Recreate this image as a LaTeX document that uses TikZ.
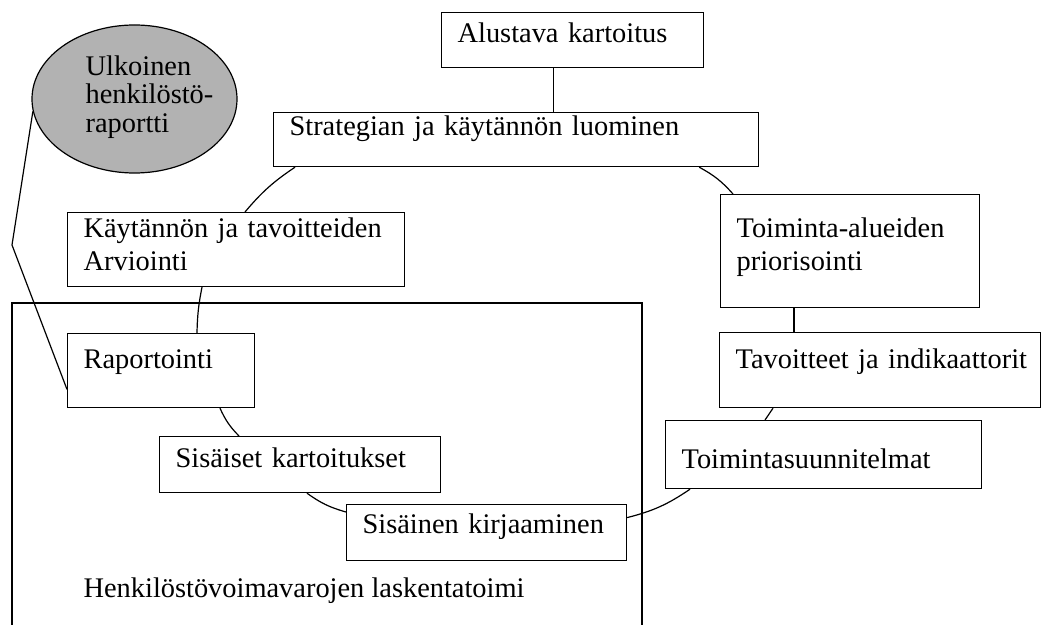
\documentclass[tikz,border=0pt]{standalone}
\usepackage{fontspec}
\setmainfont{Liberation Serif}
\usetikzlibrary{calc,shapes.geometric}

\begin{document}
\begin{tikzpicture}[x=0.5pt,y=-0.5pt,line width=0.6pt,
    box/.style={draw, rectangle, anchor=north west, inner ysep=0pt, inner xsep=8pt,
      align=left, font=\fontsize{14.2}{16.7}\selectfont},
    plain/.style={inner sep=0pt, font=\fontsize{14.2}{16.7}\selectfont}]
    \useasboundingbox (0,0) rectangle (1044,625);
    % the frame round the accounting steps
    \draw (12,625) -- (12,303) -- (642,303) -- (642,625);
    \node[plain, anchor=base west] (hvl) at (83,597) {Henkilöstövoimavarojen laskentatoimi};
    % external report
    \node[ellipse, draw, fill=black!30, minimum width=102.5pt, minimum height=74pt, inner sep=0pt] (ulk) at (134.5,99) {};
    \node[plain, align=left, anchor=west, font=\fontsize{14.2}{14.3}\selectfont] (ulkt) at (85,97) {Ulkoinen\\henkilöstö-\\raportti};
    % the steps
    \node[box, text width=115pt, text height=15pt, text depth=12.5pt] (alu) at (441,12) {Alustava kartoitus};
    \node[box, text width=226.5pt, text height=11.5pt, text depth=15.5pt] (str) at (273,112) {Strategian ja käytännön luominen};
    \node[box, text width=113.5pt, text height=21.5pt, text depth=35pt] (toi) at (720,194) {Toiminta-alueiden\\priorisointi};
    \node[box, text width=152.5pt, text height=12.5pt, text depth=24.5pt] (kay) at (67,212) {Käytännön ja tavoitteiden\\Arviointi};
    \node[box, text width=77.5pt, text height=17.5pt, text depth=19.5pt] (rap) at (67,333) {Raportointi};
    \node[box, text width=144.5pt, text height=18pt, text depth=19.5pt] (tav) at (719,332) {\mbox{Tavoitteet ja indikaattorit}};
    \node[box, text width=142pt, text height=24pt, text depth=10pt] (suu) at (665,420) {Toimintasuunnitelmat};
    \node[box, text width=124.5pt, text height=15.5pt, text depth=12.5pt] (sis) at (159,436) {Sisäiset kartoitukset};
    \node[box, text width=124pt, text height=14.5pt, text depth=13.5pt] (kir) at (346,504) {Sisäinen kirjaaminen};
    % connectors
    \coordinate (knee) at (12,245);
    \draw (ulk.187) -- (knee) -- ($(rap.south west)!0.25!(rap.north west)$);
    \draw ([xshift=-9.5pt]alu.south) -- ([xshift=-9.5pt]alu.south |- str.north);
    \draw ([xshift=-30pt]str.south east) to[bend left=10] ([xshift=6.5pt]toi.north west);
    \draw ([xshift=37pt]toi.south west) -- ([xshift=37pt]toi.south west |- tav.north);
    \draw ([xshift=27pt]tav.south west) -- ([xshift=50pt]suu.north west);
    \draw ([xshift=12.5pt]suu.south west) to[bend left=10] ([yshift=7.5pt]kir.east);
    \draw ([yshift=-4pt]kir.north west) to[bend left=10] ([xshift=74pt]sis.south west);
    \draw ([xshift=40pt]sis.north west) to[bend left=10] ([xshift=76.5pt]rap.south west);
    \draw ([xshift=65pt]rap.north west) to[bend left=5] ([xshift=67.5pt]kay.south west);
    \draw ([xshift=89pt]kay.north west) to[bend left=8] ([xshift=11pt]str.south west);
\end{tikzpicture}
\end{document}
